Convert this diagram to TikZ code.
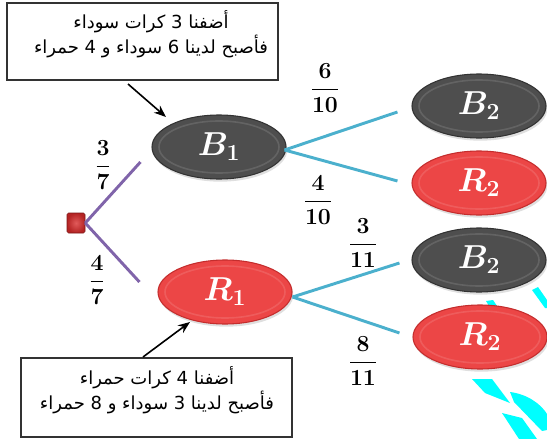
\documentclass[tikz,border=0pt]{standalone}
\usepackage{fontspec}
\usetikzlibrary{shapes.geometric,arrows.meta,calc,shadows}
\newfontfamily\arabicfont[Script=Arabic]{DejaVu Sans}
\TeXXeTstate=1
\definecolor{ballgray}{RGB}{78,78,78}
\definecolor{ballgrayD}{RGB}{50,50,50}
\definecolor{ballred}{RGB}{236,70,70}
\definecolor{ballredD}{RGB}{196,45,45}
\definecolor{branchpurple}{RGB}{128,100,170}
\definecolor{branchaqua}{RGB}{75,176,205}
\definecolor{brightcyan}{RGB}{0,255,255}
\definecolor{rootred}{RGB}{180,35,35}
\begin{document}
\begin{tikzpicture}[x=0.75pt,y=-0.75pt,
  ball/.style={ellipse, minimum width=100.5pt, minimum height=48pt, inner sep=0pt,
    line width=0.8pt, text=white, font=\fontsize{23}{27}\selectfont\boldmath,
    drop shadow={opacity=0.25, shadow xshift=1pt, shadow yshift=-2pt},
    path picture={\draw[white, opacity=0.12, line width=1.2pt]
      (path picture bounding box.center) ellipse (45pt and 19.5pt);}},
  grayball/.style={ball, fill=ballgray, draw=ballgrayD},
  redball/.style={ball, fill=ballred, draw=ballredD},
  rootsq/.style={rectangle, minimum width=13.5pt, minimum height=15pt, inner sep=0pt,
    rounded corners=1.2pt, shading=radial, inner color={rgb,255:red,225;green,90;blue,90},
    outer color=rootred, draw=rootred!70!black, line width=0.4pt},
  frac/.style={font=\fontsize{18}{22}\selectfont\boldmath, inner sep=0pt},
  infobox/.style={draw=black!80, line width=0.8pt, rectangle, inner sep=0pt, fill=white},
  infotext/.style={font=\arabicfont\fontsize{13.5}{18.75}\selectfont, align=center, inner sep=0pt},
  purpleline/.style={draw=branchpurple, line width=2.2pt},
  aqualine/.style={draw=branchaqua, line width=2.2pt},
  callout/.style={draw=black, line width=1.2pt, -{Stealth[length=9pt,width=7pt]}},
  cyanpiece/.style={fill=brightcyan, draw=none}
]
\useasboundingbox (0,0) rectangle (547,439);

% stray cyan pieces (behind everything)
\fill[cyanpiece] (532,290) -- (538,287) -- (547,300) -- (547,308) -- (545,308) -- cycle;
\fill[cyanpiece] (486,301) -- (493,300) -- (497,306) -- (489,306) -- cycle;
\fill[cyanpiece] (472,379) -- (492,379) -- (510,403) -- (485,393) -- cycle;
\fill[cyanpiece] (510,392) .. controls (527,394) and (541,404) .. (547,414) -- (547,430) -- (542,431) -- (514,402) -- cycle;
\fill[cyanpiece] (502,413) -- (522,418) -- (537,439) -- (519,439) -- cycle;

% nodes
\node[rootsq] (root) at (76,223) {};
\node[grayball] (B1) at (219,147) {$B_{1}$};
\node[redball] (R1) at (225,292) {$R_{1}$};
\node[grayball] (B2a) at (479,106) {$B_{2}$};
\node[redball] (R2a) at (479,183) {$R_{2}$};
\node[grayball] (B2b) at (479,260) {$B_{2}$};
\node[redball] (R2b) at (480,337) {$R_{2}$};

% branches
\draw[purpleline] (root.east) -- ($(B1.west)+(-11,15)$);
\draw[purpleline] (root.east) -- ($(R1.west)+(-18,-10)$);
\draw[aqualine] ($(B1.east)+(-2,3)$) -- ($(B2a.west)+(-14,6)$);
\draw[aqualine] ($(B1.east)+(-2,3)$) -- ($(R2a.west)+(-14,-2)$);
\draw[aqualine] ($(R1.east)+(0,5)$) -- ($(B2b.west)+(-12,3)$);
\draw[aqualine] ($(R1.east)+(0,5)$) -- ($(R2b.west)+(-13,-4)$);

% probabilities
\node[frac] (p37) at (103,165) {$\displaystyle\frac{3}{7}$};
\node[frac] (p47) at (97,280) {$\displaystyle\frac{4}{7}$};
\node[frac] (p610) at (325,88) {$\displaystyle\frac{6}{10}$};
\node[frac] (p410) at (318,200) {$\displaystyle\frac{4}{10}$};
\node[frac] (p311) at (363,243) {$\displaystyle\frac{3}{11}$};
\node[frac] (p811) at (363,361) {$\displaystyle\frac{8}{11}$};

% info boxes
\node[infobox, minimum width=203.25pt, minimum height=57.75pt] (top) at (142.5,41.5) {};
\node[infotext] (toptext) at (151,34.5) {\beginR أضفنا 3 كرات سوداء\endR\\ \beginR فأصبح لدينا 6 سوداء و  4 حمراء\endR};
\node[infobox, minimum width=203.25pt, minimum height=59.25pt] (bot) at (156.5,397.5) {};
\node[infotext] (bottext) at (157,390) {\beginR أضفنا 4 كرات حمراء\endR\\ \beginR فأصبح لدينا 3 سوداء و 8 حمراء\endR};

% callout arrows
\coordinate (topfrom) at (128,84);
\coordinate (topto) at (166,117);
\draw[callout] (topfrom) -- (topto);
\coordinate (botfrom) at (143,357);
\coordinate (botto) at (190,322);
\draw[callout] (botfrom) -- (botto);
\end{tikzpicture}
\end{document}
